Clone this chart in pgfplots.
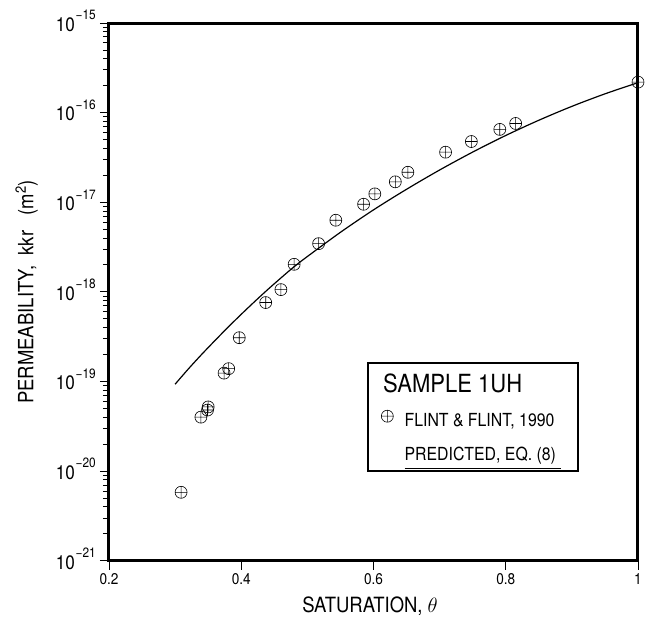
\documentclass[border=0pt]{standalone}
\usepackage{pgfplots}
\pgfplotsset{compat=1.18}
\usepackage{fontspec}
\setmainfont{TeX Gyre Heros}[FakeStretch=0.88]
\newcommand\yexp[1]{10\kern0.8pt\raisebox{11.5pt}{\fontsize{13.5}{13.5}\selectfont −#1}}
\newcommand\ul[1]{\leavevmode\vtop{\hbox{#1\kern5pt}\kern3.5pt\hrule height 1.4pt}}
\begin{document}
\begin{tikzpicture}
\useasboundingbox (0,0) rectangle (654pt,620pt);
\begin{axis}[
  scale only axis,
  width=529pt, height=537.7pt,
  at={(109pt,59.3pt)}, anchor=south west,
  xmin=0.2, xmax=1,
  ymode=log, ymin=1e-21, ymax=1e-15,
  clip=false,
  axis line style={line width=3pt},
  tick align=outside,
  xtick pos=left, ytick pos=left,
  major tick length=9pt, minor tick length=6pt,
  every tick/.style={black, line width=0.8pt},
  xtick={0.2,0.4,0.6,0.8,1},
  xticklabels={0.2,0.4,0.6,0.8,1},
  ytick={1e-21,1e-20,1e-19,1e-18,1e-17,1e-16,1e-15},
  yticklabels={\yexp{21},\yexp{20},\yexp{19},\yexp{18},\yexp{17},\yexp{16},\yexp{15}},
  xticklabel style={font=\fontsize{15.5}{15.5}\selectfont},
  yticklabel style={font=\fontsize{19.5}{19.5}\selectfont, anchor=base east, yshift=-8.3pt, inner sep=4pt},
  xlabel={SATURATION, $\theta$},
  ylabel={PERMEABILITY,\ \ kkr\ \ \ (m\textsuperscript{2})},
  xlabel style={font=\fontsize{21}{21}\selectfont, at={(axis description cs:0.4934,-0.0965)}, anchor=base},
  ylabel style={font=\fontsize{21}{21}\selectfont, at={(axis description cs:-0.1431,0.5)}, anchor=base},
  legend cell align=left,
  legend style={at={(axis description cs:0.5148,0.3534)}, anchor=north west,
    draw=none, fill=none, inner sep=0pt, outer sep=0pt, column sep=11.3pt,
    nodes={inner sep=0pt, text height=22pt, text depth=12pt}},
]
\addlegendimage{empty legend}
\addlegendentry{\hspace*{-21.4pt}\fontsize{25}{25}\selectfont SAMPLE 1UH}
\addplot[only marks, mark=oplus, mark size=6pt, mark options={line width=0.6pt, black},
  legend image code/.code={\draw[mark=oplus, mark size=6pt, mark options={line width=0.6pt, black}] plot coordinates {(0pt,5.5pt)};}]
coordinates {
(0.309, 5.8e-21)
(0.339, 4.0e-20)
(0.349, 4.8e-20)
(0.350, 5.2e-20)
(0.374, 1.24e-19)
(0.381, 1.39e-19)
(0.397, 3.08e-19)
(0.437, 7.6e-19)
(0.460, 1.06e-18)
(0.480, 2.03e-18)
(0.517, 3.45e-18)
(0.543, 6.3e-18)
(0.585, 9.5e-18)
(0.602, 1.24e-17)
(0.633, 1.69e-17)
(0.652, 2.16e-17)
(0.709, 3.62e-17)
(0.748, 4.76e-17)
(0.791, 6.5e-17)
(0.815, 7.57e-17)
(1.000, 2.19e-16)
};
\addlegendentry{\fontsize{18}{18}\selectfont FLINT \& FLINT, 1990}
\addplot[black, line width=1.2pt, smooth, no marks,
  legend image code/.code={}]
coordinates {
(0.30, 9.33e-20)
(0.32, 1.38e-19)
(0.34, 2.0e-19)
(0.36, 2.85e-19)
(0.38, 4.03e-19)
(0.40, 5.62e-19)
(0.42, 7.76e-19)
(0.44, 1.06e-18)
(0.46, 1.43e-18)
(0.48, 1.91e-18)
(0.50, 2.48e-18)
(0.55, 4.62e-18)
(0.60, 8.22e-18)
(0.65, 1.396e-17)
(0.70, 2.29e-17)
(0.75, 3.63e-17)
(0.80, 5.56e-17)
(0.85, 8.22e-17)
(0.90, 1.175e-16)
(0.95, 1.62e-16)
(1.00, 2.16e-16)
};
\addlegendentry{\fontsize{18}{18}\selectfont\ul{PREDICTED, EQ. (8)}}
\end{axis}
\draw[line width=1.5pt] (368pt,149pt) rectangle (578pt,257pt);
\end{tikzpicture}
\end{document}
